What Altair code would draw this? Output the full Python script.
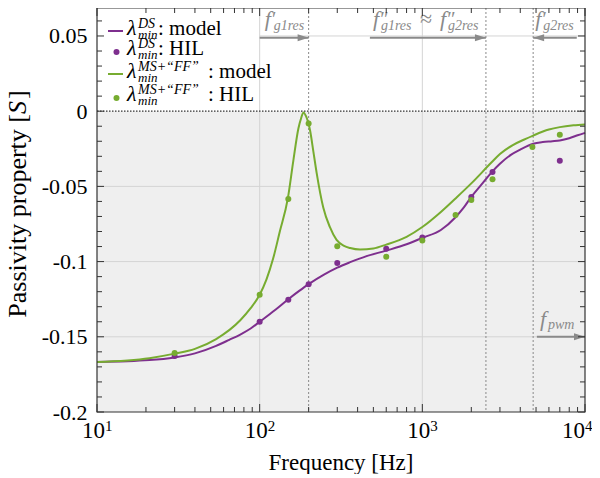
import altair as alt
import pandas as pd

# ---------------- data ----------------
# lambda_min^DS : model
ds_f = [10, 21, 30, 40, 54, 65, 76, 88, 100, 125, 150, 175, 200, 250, 300, 360, 450, 600, 800, 1000,
        1300, 1600, 1800, 2000, 2300, 2700, 3000, 3500, 4000, 4800, 5500, 6300, 7000, 8000, 9000, 10000]
ds_v = [-0.1668, -0.1655, -0.1637, -0.161, -0.156, -0.152, -0.1485, -0.1445, -0.140, -0.132,
        -0.125, -0.1195, -0.115, -0.1085, -0.104, -0.1004, -0.0965, -0.0927, -0.0885, -0.0842,
        -0.079, -0.0705, -0.064, -0.057, -0.049, -0.040, -0.035, -0.029, -0.0255, -0.0216,
        -0.0205, -0.020, -0.0195, -0.018, -0.016, -0.0144]
# lambda_min^DS : HIL
ds_hil_f = [30, 100, 150, 200, 300, 600, 1000, 2000, 2700, 7000]
ds_hil_v = [-0.1627, -0.140, -0.1253, -0.115, -0.101, -0.0915, -0.084, -0.057, -0.0404, -0.033]
# lambda_min^{MS+"FF"} : model
mf_f = [10, 21, 30, 40, 54, 76, 88, 100, 110, 121, 133, 149, 161, 173, 180, 186, 193, 204, 214, 224,
        246, 270, 297, 330, 360, 414, 500, 600, 800, 1000, 1300, 1600, 2000, 2667, 3000, 3600, 4200,
        4800, 6000, 7000, 8500, 10000]
mf_v = [-0.1667, -0.1642, -0.1612, -0.158, -0.1515, -0.139, -0.131, -0.122, -0.112, -0.098,
        -0.080, -0.058, -0.033, -0.0115, -0.0045, -0.0008, -0.0035, -0.0127, -0.027, -0.041,
        -0.064, -0.077, -0.0856, -0.0895, -0.091, -0.092, -0.0913, -0.0887, -0.0835, -0.077,
        -0.067, -0.058, -0.048, -0.034, -0.0285, -0.0225, -0.019, -0.0162, -0.0122, -0.0106,
        -0.0094, -0.0088]
# lambda_min^{MS+"FF"} : HIL
mf_hil_f = [30, 100, 150, 200, 300, 600, 1000, 1600, 2000, 2700, 4750, 7000]
mf_hil_v = [-0.1607, -0.122, -0.0584, -0.0082, -0.0898, -0.0967, -0.086, -0.069, -0.059, -0.0453,
            -0.0238, -0.0156]

# reference frequencies (dotted lines) and annotation arrows
marker_f = [200, 2460, 4800]
arrow_y_top = 0.0488
arrow_y_pwm = -0.15
arrows_right = [(100, 200, arrow_y_top), (476, 2460, arrow_y_top), (5060, 10000, arrow_y_pwm)]
arrows_left = [(8900, 4800, arrow_y_top)]

x_tick_major = [10, 100, 1000, 10000]
x_tick_minor = [m * 10 ** k for k in (1, 2, 3) for m in range(2, 10)]
x_tick_exp = ["1", "2", "3", "4"]
y_tick_major = [-0.2, -0.15, -0.1, -0.05, 0.0, 0.05]
y_tick_minor = [round(k * 0.01, 2) for k in range(-19, 7) if k % 5 != 0]

# ---------------- style ----------------
SERIF = "Liberation Serif"
PURPLE = "#7E2F8E"
GREEN = "#77AC30"
GRAY = "#8a8a8a"
AX = "#333333"
GRID = "#d4d4d4"
W, H = 488, 404
Y_MIN, Y_MAX = -0.2, 0.0686

xs = alt.Scale(type="log", domain=[10, 10000], nice=False)
ys = alt.Scale(domain=[Y_MIN, Y_MAX], nice=False, zero=False)
y_axis = alt.Axis(values=y_tick_major,
                  labelExpr="datum.value < 0 ? '-' + format(-datum.value, '~g') : format(datum.value, '~g')",
                  ticks=False, domain=False, grid=False, title=None, labelFont=SERIF,
                  labelFontSize=22, labelPadding=10, labelColor="black", labelOverlap=False)


def X(field="f"):
    return alt.X(f"{field}:Q", scale=xs, axis=None)


def Y(field="v"):
    return alt.Y(f"{field}:Q", scale=ys, axis=y_axis)


one = pd.DataFrame({"k": [0]})


def txt(s, x, y, size, italic=False, color="black", align="left", angle=0, dx=0):
    return alt.Chart(one).mark_text(
        text=s, font=SERIF, fontSize=size, fontStyle="italic" if italic else "normal",
        color=color, align=align, baseline="alphabetic", angle=angle, dx=dx
    ).encode(x=alt.value(x), y=alt.value(y))


def atxt(s, f, v, dx, dy, size, italic=True):
    return alt.Chart(pd.DataFrame({"f": [f], "v": [v]})).mark_text(
        text=s, font=SERIF, fontSize=size, fontStyle="italic" if italic else "normal",
        color=GRAY, align="left", baseline="alphabetic", dx=dx, dy=dy
    ).encode(x=X(), y=Y())


layers = []

# shaded non-passive region
layers.append(alt.Chart(pd.DataFrame({"f": [10], "f2": [10000], "v": [0.0], "v2": [Y_MIN]}))
              .mark_rect(color="#efefef").encode(x=X(), x2="f2", y=Y(), y2="v2"))
# grid
layers.append(alt.Chart(pd.DataFrame({"v": [-0.15, -0.1, -0.05, 0.05],
                                      "f": [10, 10, 10, 100], "f2": [10000] * 4}))
              .mark_rule(color=GRID, strokeWidth=1).encode(x=X(), x2="f2", y=Y()))
layers.append(alt.Chart(pd.DataFrame({"f": [100, 1000]}))
              .mark_rule(color=GRID, strokeWidth=1).encode(x=X(), y=alt.value(0), y2=alt.value(H)))
# dotted frequency markers
layers.append(alt.Chart(pd.DataFrame({"f": marker_f}))
              .mark_rule(color=GRAY, strokeWidth=1, strokeDash=[2, 2])
              .encode(x=X(), y=alt.value(0), y2=alt.value(H)))
# zero line
layers.append(alt.Chart(pd.DataFrame({"v": [0.0], "f": [10], "f2": [10000]}))
              .mark_rule(color=AX, strokeWidth=1.3, strokeDash=[1.5, 1.5]).encode(x=X(), x2="f2", y=Y()))

# series
layers.append(alt.Chart(pd.DataFrame({"f": ds_f, "v": ds_v}))
              .mark_line(color=PURPLE, strokeWidth=2, interpolate="monotone").encode(x=X(), y=Y()))
layers.append(alt.Chart(pd.DataFrame({"f": ds_hil_f, "v": ds_hil_v}))
              .mark_circle(color=PURPLE, size=36, opacity=1).encode(x=X(), y=Y()))
layers.append(alt.Chart(pd.DataFrame({"f": mf_f, "v": mf_v}))
              .mark_line(color=GREEN, strokeWidth=2, interpolate="monotone").encode(x=X(), y=Y()))
layers.append(alt.Chart(pd.DataFrame({"f": mf_hil_f, "v": mf_hil_v}))
              .mark_circle(color=GREEN, size=36, opacity=1).encode(x=X(), y=Y()))

# annotation arrows
for (a, b, yv) in arrows_right + arrows_left:
    layers.append(alt.Chart(pd.DataFrame({"f": [a], "f2": [b], "v": [yv]}))
                  .mark_rule(color=GRAY, strokeWidth=2).encode(x=X(), x2="f2", y=Y()))
heads_r = pd.DataFrame({"f": [b for (_, b, _) in arrows_right], "v": [y for (_, _, y) in arrows_right]})
heads_l = pd.DataFrame({"f": [b for (_, b, _) in arrows_left], "v": [y for (_, _, y) in arrows_left]})
layers.append(alt.Chart(heads_r).mark_point(shape="M 0 0 L -1 -0.32 L -1 0.32 Z", size=484, filled=True,
                                            color=GRAY, opacity=1).encode(x=X(), y=Y()))
layers.append(alt.Chart(heads_l).mark_point(shape="M 0 0 L 1 -0.32 L 1 0.32 Z", size=484, filled=True,
                                            color=GRAY, opacity=1).encode(x=X(), y=Y()))

# annotation labels
layers += [
    atxt("f", 100, arrow_y_top, 5, -12, 22), atxt("′", 100, arrow_y_top, 11, -12, 20),
    atxt("g1res", 100, arrow_y_top, 14, -8, 14),
    atxt("f", 476, arrow_y_top, 3, -12, 22), atxt("″", 476, arrow_y_top, 9, -12, 20),
    atxt("g1res", 476, arrow_y_top, 11, -8, 14),
    atxt("≈", 476, arrow_y_top, 50, -12, 22, italic=False),
    atxt("f", 476, arrow_y_top, 70, -12, 22), atxt("″", 476, arrow_y_top, 76, -12, 20),
    atxt("g2res", 476, arrow_y_top, 78, -8, 14),
    atxt("f", 4800, arrow_y_top, 2, -12, 22), atxt("′", 4800, arrow_y_top, 8, -12, 20),
    atxt("g2res", 4800, arrow_y_top, 10, -8, 14),
    atxt("f", 5060, arrow_y_pwm, 3, -11, 22), atxt("pwm", 5060, arrow_y_pwm, 11, -8, 14),
]

# inward ticks
def xticks(vals, L):
    d = pd.DataFrame({"f": vals})
    return [alt.Chart(d).mark_rule(color=AX, strokeWidth=1).encode(x=X(), y=alt.value(H), y2=alt.value(H - L)),
            alt.Chart(d).mark_rule(color=AX, strokeWidth=1).encode(x=X(), y=alt.value(0), y2=alt.value(L))]


def yticks(vals, L):
    d = pd.DataFrame({"v": vals})
    return [alt.Chart(d).mark_rule(color=AX, strokeWidth=1).encode(y=Y(), x=alt.value(0), x2=alt.value(L)),
            alt.Chart(d).mark_rule(color=AX, strokeWidth=1).encode(y=Y(), x=alt.value(W), x2=alt.value(W - L))]


layers += xticks(x_tick_major, 8) + xticks(x_tick_minor, 5) + yticks(y_tick_major, 7) + yticks(y_tick_minor, 5)

# frame
layers.append(alt.Chart(one).mark_rect(filled=False, color=AX, strokeWidth=1.2)
              .encode(x=alt.value(0), x2=alt.value(W), y=alt.value(0), y2=alt.value(H)))

# x tick labels 10^k (last one nudged inward so it is not cut by the page edge)
for i, (fv, ex) in enumerate(zip(x_tick_major, x_tick_exp)):
    shift = 8 if i < len(x_tick_major) - 1 else 0
    d = pd.DataFrame({"f": [fv], "e": [ex]})
    layers.append(alt.Chart(d).mark_text(text="10", font=SERIF, fontSize=23, align="right", dx=shift,
                                         baseline="alphabetic", color="black")
                  .encode(x=X(), y=alt.value(430)))
    layers.append(alt.Chart(d).mark_text(font=SERIF, fontSize=15, align="left", dx=shift,
                                         baseline="alphabetic", color="black")
                  .encode(x=X(), y=alt.value(423), text="e:N"))

# axis titles
layers.append(txt("Frequency [Hz]", W / 2, 462, 23, align="center"))
layers.append(txt("Passivity property [", -71, 106, 26, align="right", angle=270))
layers.append(txt("S", -71, 106, 26, italic=True, align="left", angle=270))
layers.append(txt("]", -71, 106, 26, align="left", angle=270, dx=15))

# legend
leg_rows = [
    ("line", PURPLE, "DS", ": model", 27),
    ("dot", PURPLE, "DS", ": HIL", 47),
    ("line", GREEN, "MS+“FF”", ": model", 70),
    ("dot", GREEN, "MS+“FF”", ": HIL", 93),
]
for kind, col, sup, lab, base in leg_rows:
    if kind == "line":
        layers.append(alt.Chart(one).mark_rule(color=col, strokeWidth=2)
                      .encode(x=alt.value(11), x2=alt.value(26), y=alt.value(base - 4)))
    else:
        layers.append(alt.Chart(one).mark_circle(color=col, size=36, opacity=1)
                      .encode(x=alt.value(19.5), y=alt.value(base - 3)))
    layers.append(txt("λ", 30, base, 22, italic=True))
    layers.append(txt(sup, 41, base - 7, 14, italic=True))
    layers.append(txt("min", 41, base + 4, 13, italic=True))
    layers.append(txt(lab, 61 if sup == "DS" else 111, base, 21))

chart = alt.layer(*layers).properties(
    width=W, height=H,
    padding={"left": 89, "top": 0, "right": 7, "bottom": 62},
    autosize=alt.AutoSizeParams(type="none"),
    background="white",
).configure_view(strokeWidth=0)

chart.save("out.html", embed_options={"renderer": "svg", "actions": False})
